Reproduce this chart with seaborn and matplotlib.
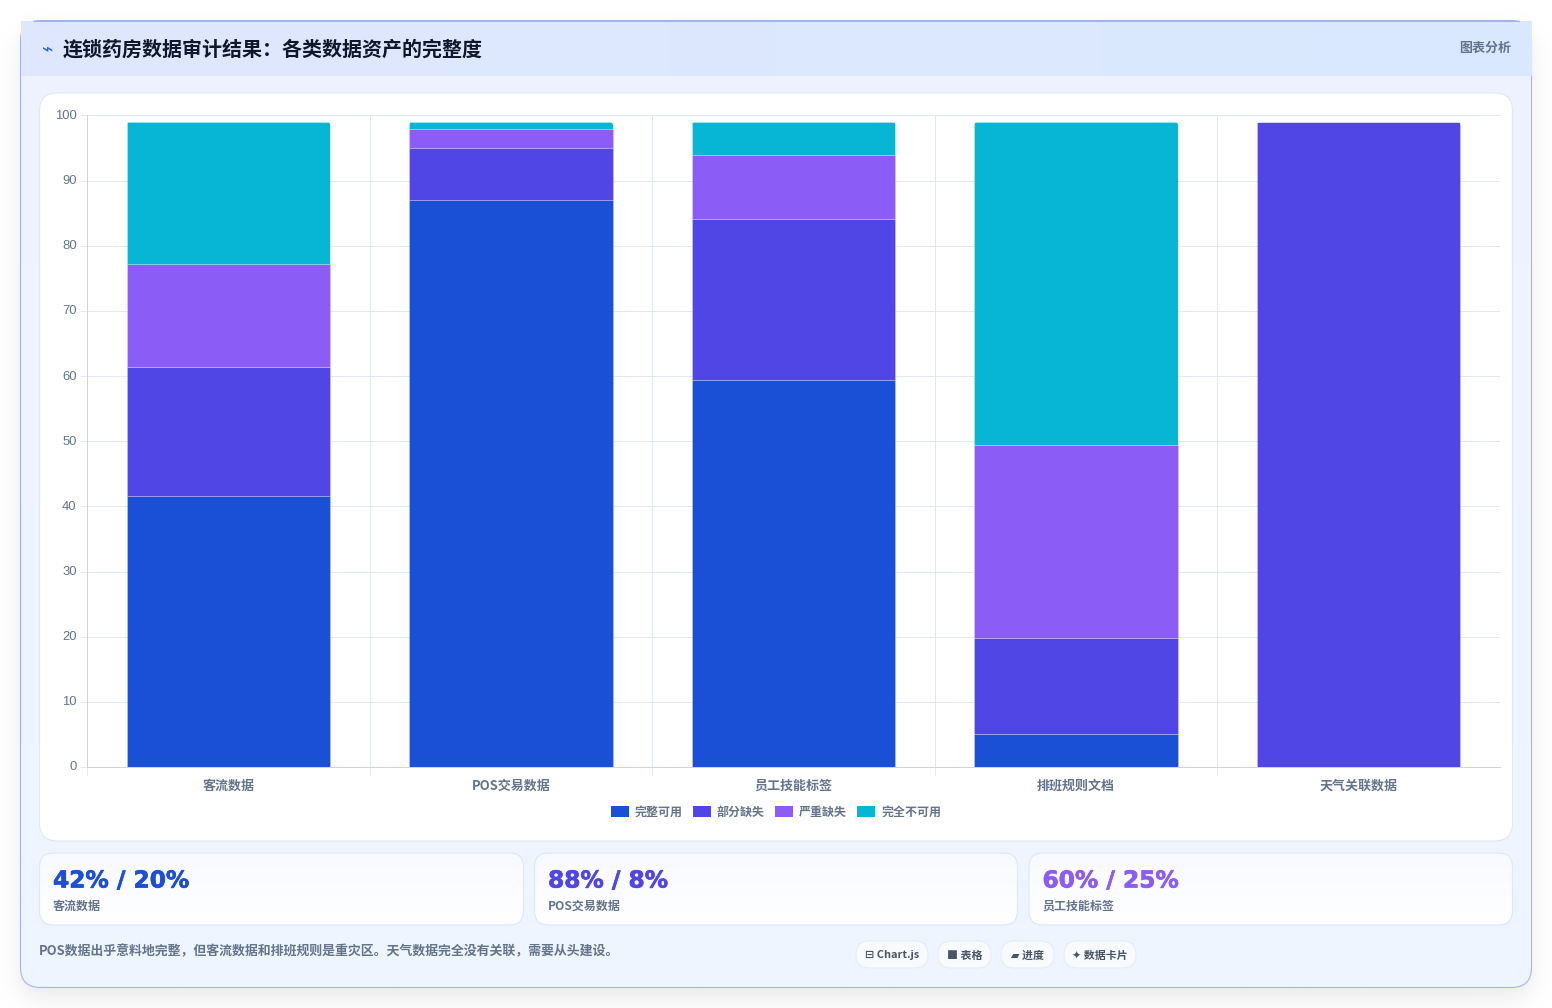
import numpy as np
import pandas as pd
import seaborn as sns
import matplotlib
matplotlib.use("Agg")
import matplotlib.pyplot as plt
import matplotlib.patheffects as pe
from matplotlib.patches import FancyBboxPatch
from matplotlib.transforms import IdentityTransform, ScaledTranslation

# Audit results per data asset
categories = ["客流数据", "POS交易数据", "员工技能标签", "排班规则文档", "天气关联数据"]
series_names = ["完整可用", "部分缺失", "严重缺失", "完全不可用"]
complete = [41.6, 87.1, 59.4, 5.0, 0.0]
partial = [19.8, 7.9, 24.7, 14.8, 99.0]
severe = [15.8, 3.0, 9.9, 29.7, 0.0]
unusable = [21.8, 1.0, 5.0, 49.5, 0.0]
y_ticks = [0, 10, 20, 30, 40, 50, 60, 70, 80, 90, 100]

series_colors = ["#1a50d6", "#4f46e5", "#8b5cf6", "#06b6d4"]

title_text = "连锁药房数据审计结果：各类数据资产的完整度"
badge_text = "图表分析"
stat_values = ["42% / 20%", "88% / 8%", "60% / 25%"]
stat_labels = ["客流数据", "POS交易数据", "员工技能标签"]
stat_colors = ["#1d4ed8", "#4f46e5", "#8b5cf6"]
note_text = "POS数据出乎意料地完整，但客流数据和排班规则是重灾区。天气数据完全没有关联，需要从头建设。"
chip_texts = ["⊟ Chart.js", "■ 表格", "▰ 进度", "✦ 数据卡片"]

W, H = 1552, 1008
sns.set_theme(style="white")
CJK = ["Noto Sans CJK SC", "DejaVu Sans"]
plt.rcParams["font.family"] = CJK
PX = 0.72  # points per pixel at 100 dpi

fig = plt.figure(figsize=(W / 100, H / 100), dpi=100, facecolor="white")
page = fig.add_axes([0, 0, 1, 1], zorder=0)
page.set_xlim(0, W)
page.set_ylim(H, 0)
page.axis("off")


def box(x0, y0, x1, y1, r, **kw):
    p = FancyBboxPatch((x0, y0), x1 - x0, y1 - y0,
                       boxstyle=f"round,pad=0,rounding_size={r}", **kw)
    page.add_patch(p)
    return p


def gradient(x0, y0, x1, y1, c0, c1, clip=None, vertical=False, zorder=1):
    rgb0 = np.array(matplotlib.colors.to_rgb(c0))
    rgb1 = np.array(matplotlib.colors.to_rgb(c1))
    t = np.linspace(0, 1, 256)
    arr = rgb0 + (rgb1 - rgb0) * t[:, None]
    arr = arr[:, None, :] if vertical else arr[None, :, :]
    im = page.imshow(arr, extent=(x0, x1, y1, y0), aspect="auto", zorder=zorder,
                     interpolation="bilinear")
    if clip is not None:
        im.set_clip_path(clip)
    return im


# soft drop shadow beneath the panel
gx, gy = np.meshgrid(np.arange(W) + 0.5, np.arange(H) + 0.5)
soft = 18.0
sx = 0.5 * (np.tanh((gx - 24) / soft) - np.tanh((gx - 1528) / soft))
sy = 0.5 * (np.tanh((gy - 36) / soft) - np.tanh((gy - 996) / soft))
shadow = np.zeros((H, W, 4))
shadow[..., :3] = 0.06
shadow[..., 3] = 0.105 * sx * sy
page.imshow(shadow, extent=(0, W, H, 0), aspect="auto", zorder=0.5)
page.set_xlim(0, W)
page.set_ylim(H, 0)

# panel body with its gradient, then the header band
panel_clip = box(20.5, 20.5, 1531.5, 987.5, 20, fc="none", ec="none", zorder=1)
gradient(20.5, 20.5, 1531.5, 987.5, "#eef2ff", "#eff6ff", clip=panel_clip, vertical=True, zorder=1)
box(20.5, 20.5, 1531.5, 987.5, 20, fc="none", ec="#a5b4ec", lw=0.8, zorder=2)
gradient(21, 21, 1531.5, 76, "#e0e7ff", "#d9e9fe", zorder=3)
page.plot([33, 1519], [20.7, 20.7], color="#a5b4ec", lw=0.8, zorder=4)

page.text(47.5, 50, "⌁", color="#2563eb", fontsize=19 * PX, ha="center", va="center",
          family=["DejaVu Sans"], zorder=5)
page.text(63, 49.5, title_text, color="#0f172a", fontsize=20 * PX, fontweight="bold",
          ha="left", va="center", zorder=5)
page.text(1511, 48, badge_text, color="#64748b", fontsize=13 * PX, fontweight="bold",
          ha="right", va="center", zorder=5)

# chart card
box(39.5, 93, 1512.5, 841, 18, fc="white", ec="#e2e8f0", lw=0.8, zorder=3)

# stat cards
stat_spans = [(39.5, 523.5), (534.5, 1017.5), (1029, 1512.5)]
for (x0, x1), value, label, color in zip(stat_spans, stat_values, stat_labels, stat_colors):
    card = box(x0, 853, x1, 925, 14, fc="none", ec="none", zorder=3)
    gradient(x0, 853, x1, 925, "#f8faff", "#ffffff", clip=card, vertical=True, zorder=3)
    box(x0, 853, x1, 925, 14, fc="none", ec="#dbe7fb", lw=0.8, zorder=4)
    page.text(x0 + 13.5, 881, value, color=color, fontsize=23.3 * PX, fontweight="bold",
              family=["DejaVu Sans"], ha="left", va="center", zorder=5,
              path_effects=[pe.withStroke(linewidth=0.5, foreground=color)])
    page.text(x0 + 13.5, 906, label, color="#64748b", fontsize=12 * PX, fontweight="bold",
              ha="left", va="center", zorder=5)

page.text(39, 951, note_text, color="#64748b", fontsize=12.95 * PX, fontweight="bold",
          ha="left", va="center", zorder=5)

# tool chips
chip_spans = [(856, 928), (938, 991), (1001, 1054), (1064, 1136)]
for (x0, x1), label in zip(chip_spans, chip_texts):
    box(x0, 941, x1, 968, 13.5, fc="#f8fafc", ec="#e8edf5", lw=0.8, zorder=4)
    page.text((x0 + x1) / 2, 955.5, label, color="#475569", fontsize=11 * PX, fontweight="bold",
              family=["Noto Sans CJK SC", "DejaVu Sans"], ha="center", va="center", zorder=5)

# stacked bars
plot_x0, plot_x1, plot_top, plot_bottom = 87.0, 1500.0, 115.5, 767.0
ax = fig.add_axes([plot_x0 / W, 1 - plot_bottom / H, (plot_x1 - plot_x0) / W,
                   (plot_bottom - plot_top) / H], zorder=2)
ax.patch.set_alpha(0)

frame = pd.DataFrame({"category": categories, "完整可用": complete, "部分缺失": partial,
                      "严重缺失": severe, "完全不可用": unusable})
stack_base = np.zeros(len(categories))
for name, color in zip(series_names, series_colors):
    sns.barplot(data=frame, x="category", y=name, order=categories, bottom=stack_base,
                color=color, saturation=1, width=0.72, errorbar=None, ax=ax, label=name,
                edgecolor=(1, 1, 1, 0.22), linewidth=1 * PX, zorder=3)
    stack_base = stack_base + frame[name].to_numpy()

ax.set_xlim(-0.5, 4.5)
ax.set_ylim(0, 100)
ax.set_xlabel("")
ax.set_ylabel("")
ax.set_yticks(y_ticks)
ax.set_xticks(np.arange(len(categories)))
ax.set_xticklabels(categories)
ax.set_xticks(np.arange(len(categories)) - 0.5, minor=True)
ax.grid(True, axis="y", color="#e2e8f0", lw=1 * PX, zorder=0)
ax.grid(True, axis="x", which="minor", color="#e2e8f0", lw=1 * PX, zorder=0)
ax.grid(False, axis="x", which="major")
ax.set_axisbelow(True)
ax.tick_params(axis="y", left=True, length=7 * PX, width=1 * PX, color="#e2e8f0",
               labelcolor="#64748b", labelsize=13 * PX, pad=2.5)
ax.tick_params(axis="x", which="major", bottom=False, length=0, labelcolor="#64748b",
               labelsize=13 * PX, pad=8.6)
ax.tick_params(axis="x", which="minor", bottom=True, length=8 * PX, width=1 * PX, color="#e2e8f0")
for lab in ax.get_yticklabels():
    lab.set_family(["Liberation Sans"])
    lab.set_transform(lab.get_transform() + ScaledTranslation(0, 1 / 100, fig.dpi_scale_trans))
for lab in ax.get_xticklabels():
    lab.set_fontweight("bold")
    lab.set_family(["Noto Sans CJK SC", "DejaVu Sans"])
for side in ("top", "right"):
    ax.spines[side].set_visible(False)
for side in ("left", "bottom"):
    ax.spines[side].set_color("#cbd5e1")
    ax.spines[side].set_linewidth(1 * PX)

# round the outer top corners of every stacked column
bars = [b for b in ax.patches if b.get_height() > 0]
for centre in {round(b.get_x() + b.get_width() / 2, 3) for b in bars}:
    column = [b for b in bars if round(b.get_x() + b.get_width() / 2, 3) == centre]
    top_bar = max(column, key=lambda b: b.get_y() + b.get_height())
    (dx0, dy0), (dx1, dy1) = ax.transData.transform(
        [(top_bar.get_x(), top_bar.get_y()),
         (top_bar.get_x() + top_bar.get_width(), top_bar.get_y() + top_bar.get_height())])
    rounded = FancyBboxPatch((dx0 - 0.5, dy0 - 20), dx1 - dx0 + 1, dy1 - dy0 + 20.5,
                             boxstyle="round,pad=0,rounding_size=5",
                             transform=IdentityTransform())
    top_bar.set_clip_path(rounded)

handles, labels = ax.get_legend_handles_labels()
ax.get_legend().remove()
legend = fig.legend(handles, labels, loc="center", bbox_to_anchor=(776 / W, 1 - 812 / H), ncol=4,
                    frameon=False, handlelength=1.5, handleheight=0.95,
                    handletextpad=0.5, columnspacing=0.86, borderpad=0, labelcolor="#64748b",
                    prop={"weight": "bold", "size": 12 * PX, "family": CJK})
legend.set_zorder(6)
for h in legend.legend_handles:
    h.set_edgecolor("none")

fig.savefig("out.png", dpi=100, facecolor="white")
